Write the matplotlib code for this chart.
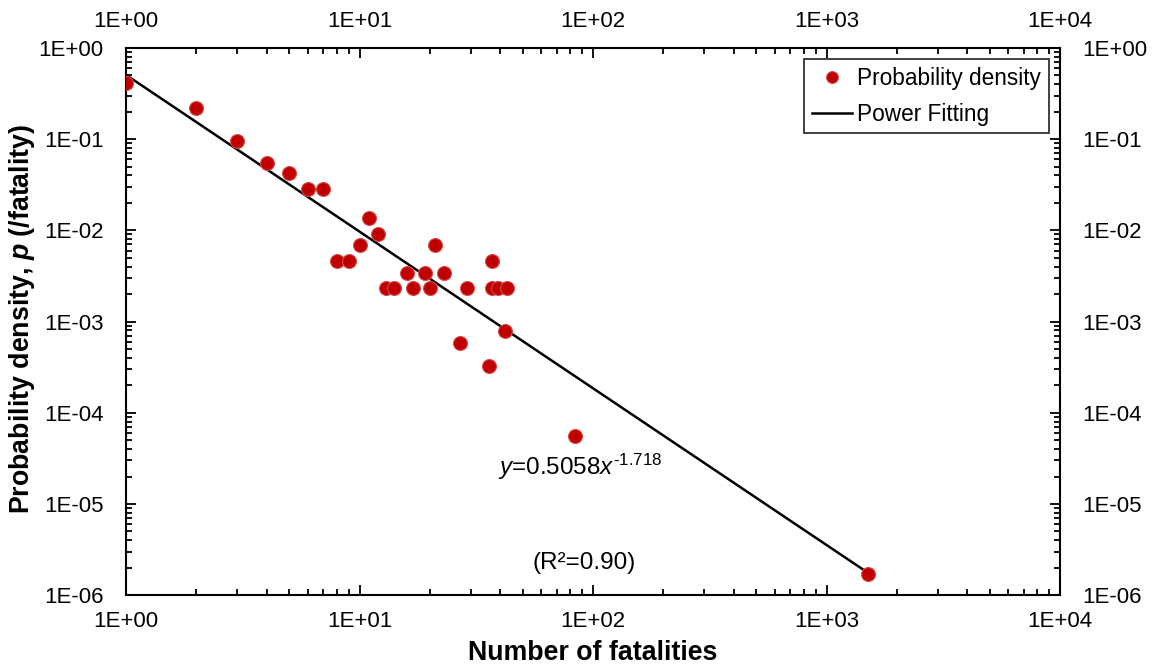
import numpy as np
import matplotlib.pyplot as plt
from matplotlib.ticker import LogLocator, FuncFormatter, NullFormatter

plt.rcParams['font.family'] = ['Liberation Sans', 'DejaVu Sans']
plt.rcParams['mathtext.fontset'] = 'custom'
plt.rcParams['mathtext.rm'] = 'Liberation Sans'
plt.rcParams['mathtext.it'] = 'Liberation Sans:italic'
plt.rcParams['mathtext.bf'] = 'Liberation Sans:bold'
plt.rcParams['mathtext.bfit'] = 'Liberation Sans:italic:bold'

# --- Data ---
fatalities = [1, 2, 3, 4, 5, 6, 7, 8, 9, 10, 11, 12, 13, 14, 16, 17, 19, 20,
              21, 23, 27, 29, 36, 37, 37, 39, 42, 43, 84, 1500]
density = [0.41, 0.222, 0.0955, 0.0544, 0.0423, 0.0282, 0.0282, 0.00466,
           0.00466, 0.00692, 0.0136, 0.0092, 0.00232, 0.00232, 0.00344,
           0.00232, 0.00344, 0.00232, 0.00692, 0.00344, 0.000578, 0.00232,
           0.000328, 0.00466, 0.00232, 0.00232, 0.000794, 0.00232,
           5.6e-5, 1.7e-6]

# power fit y = a * x^b
fit_a = 0.5058
fit_b = -1.718
fit_range = [1, 1500]

x_ticks = [1e0, 1e1, 1e2, 1e3, 1e4]
y_ticks = [1e-6, 1e-5, 1e-4, 1e-3, 1e-2, 1e-1, 1e0]

fig = plt.figure(figsize=(11.56, 6.65), dpi=100)
ax = fig.add_axes([0.109, 0.105, 0.808, 0.823])

xf = np.array(fit_range, dtype=float)
ax.plot(xf, fit_a * xf ** fit_b, color='black', lw=1.8, label='Power Fitting', zorder=2)
ax.plot(fatalities, density, 'o', ms=10, mfc='#C00000', mec='#D44A4A', mew=0.8,
        label='Probability density', zorder=3)

ax.set_xscale('log')
ax.set_yscale('log')
ax.set_xlim(1, 1e4)
ax.set_ylim(1e-6, 1)
ax.set_xticks(x_ticks)
ax.set_yticks(y_ticks)
fmt = FuncFormatter(lambda v, pos: f"{v:.0E}")
ax.xaxis.set_major_formatter(fmt)
ax.yaxis.set_major_formatter(fmt)
ax.xaxis.set_minor_locator(LogLocator(base=10, subs=np.arange(2, 10), numticks=20))
ax.yaxis.set_minor_locator(LogLocator(base=10, subs=np.arange(2, 10), numticks=20))
ax.xaxis.set_minor_formatter(NullFormatter())
ax.yaxis.set_minor_formatter(NullFormatter())

ax.tick_params(which='both', direction='in', top=True, right=True,
               labeltop=True, labelright=True, labelsize=16, width=1.3)
ax.tick_params(which='major', length=7)
ax.tick_params(which='minor', length=4)
ax.tick_params(axis='x', which='major', pad=11.5)
ax.tick_params(axis='y', which='major', pad=16)
for s in ax.spines.values():
    s.set_linewidth(1.5)

ax.set_xlabel('Number of fatalities', fontsize=19.3, fontweight='bold')
ax.xaxis.set_label_coords(0.5, -0.082)
ax.set_ylabel(r'Probability density, $\mathbfit{p}$ (/fatality)', fontsize=19.3,
              fontweight='bold')
ax.yaxis.label.set_verticalalignment('center')
ax.yaxis.set_label_coords(-0.111, 0.505)

ax.text(39, 2.55e-5, r'$\mathit{y}$=0.5058$\mathit{x}^{\text{-1.718}}$',
        fontsize=17.5, ha='left', va='center')
ax.text(92, 2.25e-6, '(R²=0.90)', fontsize=17.5, ha='center', va='center')

leg = ax.legend(handles=ax.get_lines()[::-1], loc='upper right', fontsize=16.3,
                frameon=True, fancybox=False, edgecolor='black', borderaxespad=0.5,
                handlelength=1.8, handletextpad=0.2, borderpad=0.35, labelspacing=0.55,
                markerscale=0.85)
leg.get_frame().set_linewidth(1.3)

fig.savefig('out.png', dpi=100)
